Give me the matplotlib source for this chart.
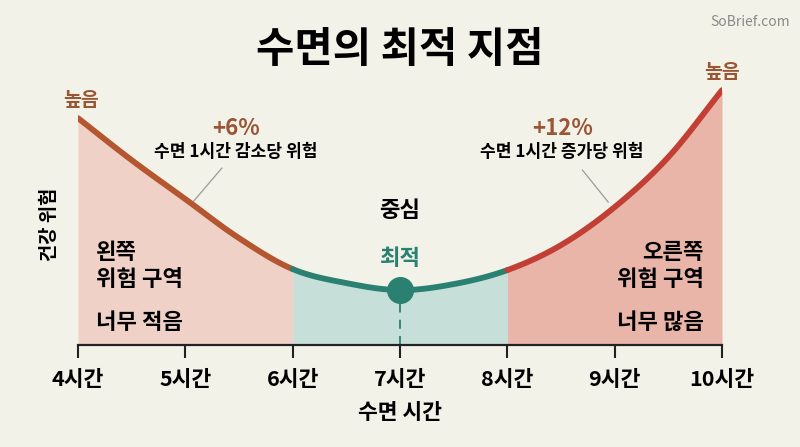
import numpy as np
import matplotlib
matplotlib.use('Agg')
import matplotlib.pyplot as plt

plt.rcParams['font.family'] = ['Noto Sans CJK KR', 'DejaVu Sans']

# 데이터
hours = [4, 4.5, 5, 5.5, 6, 6.5, 7, 7.5, 8, 8.5, 9, 9.5, 10]
risk = [227, 185, 146, 107, 76, 62, 55, 61, 75, 100, 138, 188, 255]
tick_hours = [4, 5, 6, 7, 8, 9, 10]
tick_labels = ['4시간', '5시간', '6시간', '7시간', '8시간', '9시간', '10시간']
zone_edges = [4, 6, 8, 10]
optimum = 7

bg = '#f3f2e9'
fill_colors = ['#efd1c7', '#c6e0d9', '#e9b5a8']
line_colors = ['#b4562f', '#2a8172', '#c23f36']
brown = '#9a5535'
teal = '#2a8172'


def smooth(xs, ys, n=20):
    # Catmull-Rom 곡선으로 점 사이를 부드럽게
    xs = np.asarray(xs, float)
    ys = np.asarray(ys, float)
    px = np.concatenate([[2 * xs[0] - xs[1]], xs, [2 * xs[-1] - xs[-2]]])
    py = np.concatenate([[2 * ys[0] - ys[1]], ys, [2 * ys[-1] - ys[-2]]])
    ox, oy = [], []
    for i in range(1, len(px) - 2):
        t = np.linspace(0, 1, n, endpoint=False)
        for p, out in ((px, ox), (py, oy)):
            p0, p1, p2, p3 = p[i - 1], p[i], p[i + 1], p[i + 2]
            out.extend(0.5 * (2 * p1 + (-p0 + p2) * t + (2 * p0 - 5 * p1 + 4 * p2 - p3) * t ** 2
                              + (-p0 + 3 * p1 - 3 * p2 + p3) * t ** 3))
    ox.append(xs[-1])
    oy.append(ys[-1])
    return np.array(ox), np.array(oy)


sx, sy = smooth(hours, risk)

fig = plt.figure(figsize=(8, 4.47), dpi=100, facecolor=bg)
ax = fig.add_axes([0.0975, 0.228, 0.805, 0.671])
ax.set_facecolor(bg)
ax.set_xlim(4, 10)
ax.set_ylim(0, 300)

# 구역 채우기와 곡선
for i in range(3):
    m = (sx >= zone_edges[i] - 1e-9) & (sx <= zone_edges[i + 1] + 1e-9)
    ax.fill_between(sx[m], 0, sy[m], color=fill_colors[i], lw=0, zorder=1)
    ax.plot(sx[m], sy[m], color=line_colors[i], lw=4.2, solid_capstyle='round', zorder=3)

# 최적 지점
opt_y = risk[hours.index(optimum)]
ax.plot([optimum, optimum], [0, opt_y], color=teal, lw=1.3, ls=(0, (5, 4)), zorder=2)
ax.scatter([optimum], [opt_y], s=340, color=teal, zorder=4)

# 축
for s in ['top', 'right', 'left']:
    ax.spines[s].set_visible(False)
ax.spines['bottom'].set_linewidth(1.6)
ax.spines['bottom'].set_color('#222222')
ax.set_yticks([])
ax.set_xticks(tick_hours)
ax.set_xticklabels(tick_labels, fontsize=15.5, fontweight='bold')
ax.tick_params(axis='x', direction='out', length=9, width=1.5, color='#222222', pad=8)
ax.set_xlabel('수면 시간', fontsize=15.5, fontweight='bold', labelpad=9)
ax.set_ylabel('건강 위험', fontsize=13.5, fontweight='bold')
ax.yaxis.set_label_coords(-0.030, 0.403)

# 텍스트
fig.text(0.5, 0.888, '수면의 최적 지점', ha='center', va='center', fontsize=30, fontweight='bold')
fig.text(0.988, 0.95, 'SoBrief.com', ha='right', va='center', fontsize=10, color='#8a8a8a')

ax.text(4.03, 245, '높음', ha='center', va='center', fontsize=14, fontweight='bold', color=brown)
ax.text(10, 273, '높음', ha='center', va='center', fontsize=14, fontweight='bold', color=brown)

ax.text(5.47, 217, '+6%', ha='center', va='center', fontsize=16, fontweight='bold', color=brown)
ax.text(5.47, 193, '수면 1시간 감소당 위험', ha='center', va='center', fontsize=12.3, fontweight='bold')
ax.plot([5.34, 5.07], [177, 143], color='#9a9a9a', lw=0.9)

ax.text(8.51, 217, '+12%', ha='center', va='center', fontsize=16, fontweight='bold', color=brown)
ax.text(8.51, 193, '수면 1시간 증가당 위험', ha='center', va='center', fontsize=12.3, fontweight='bold')
ax.plot([8.70, 8.94], [175, 143], color='#9a9a9a', lw=0.9)

ax.text(7, 135, '중심', ha='center', va='center', fontsize=16, fontweight='bold')
ax.text(7, 87, '최적', ha='center', va='center', fontsize=16, fontweight='bold', color=teal)

ax.text(4.17, 79, '왼쪽\n위험 구역', ha='left', va='center', fontsize=16, fontweight='bold', linespacing=1.2)
ax.text(4.17, 23, '너무 적음', ha='left', va='center', fontsize=16, fontweight='bold')
ax.text(9.83, 79, '오른쪽\n위험 구역', ha='right', va='center', fontsize=16, fontweight='bold', linespacing=1.2)
ax.text(9.83, 23, '너무 많음', ha='right', va='center', fontsize=16, fontweight='bold')

fig.savefig('out.png', dpi=100, facecolor=bg)
